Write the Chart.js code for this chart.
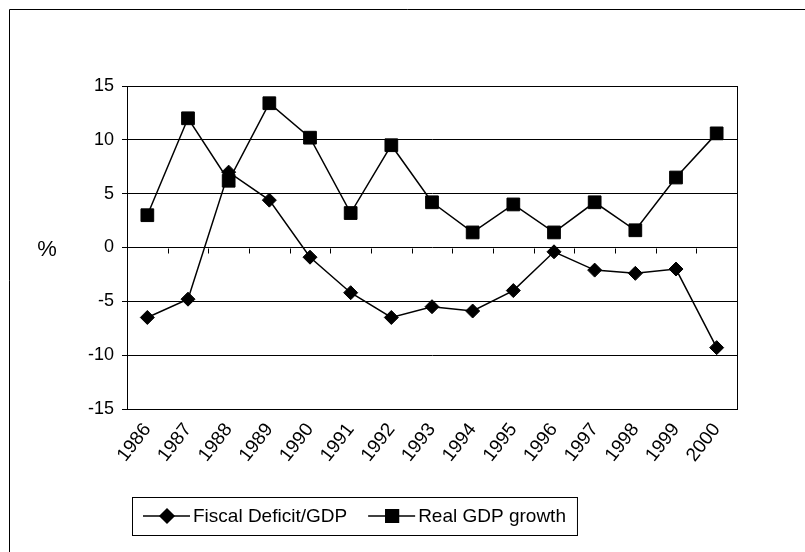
<!DOCTYPE html>
<html lang="en">
<head>
    <meta charset="UTF-8">
    <title>Fiscal Deficit/GDP and Real GDP growth</title>
    <script src="https://cdn.jsdelivr.net/npm/chart.js"></script>
    <style>
        html, body { margin: 0; padding: 0; background: #fff; }
        canvas { display: block; }
    </style>
</head>
<body>
    <canvas id="chartCanvas" width="805" height="552"></canvas>

    <script>
        // data
        const years = ['1986', '1987', '1988', '1989', '1990', '1991', '1992', '1993',
                       '1994', '1995', '1996', '1997', '1998', '1999', '2000'];
        const fiscalDeficit = [-6.5, -4.8, 7.0, 4.4, -0.9, -4.2, -6.5, -5.5,
                               -5.9, -4.0, -0.4, -2.1, -2.4, -2.0, -9.3];
        const realGdpGrowth = [3.0, 12.0, 6.2, 13.4, 10.2, 3.2, 9.5, 4.2,
                               1.4, 4.0, 1.4, 4.2, 1.6, 6.5, 10.6];
        const yMin = -15, yMax = 15, yStep = 5;
        const seriesNames = ['Fiscal Deficit/GDP', 'Real GDP growth'];

        const FONT = '"Liberation Sans", Arial, sans-serif';

        // frame, zero-line ticks, "%" label and boxed legend
        const extras = {
            id: 'extras',
            afterDraw(chart) {
                const ctx = chart.ctx;
                const a = chart.chartArea;
                const x = chart.scales.x;
                const y = chart.scales.y;
                ctx.save();
                ctx.strokeStyle = '#000';
                ctx.lineWidth = 1;

                // outer border (left + top only, the rest is cropped)
                ctx.beginPath();
                ctx.moveTo(9.5, 552);
                ctx.lineTo(9.5, 9.5);
                ctx.lineTo(805, 9.5);
                ctx.stroke();

                // plot frame
                ctx.strokeRect(Math.round(a.left) + 0.5, Math.round(a.top) + 0.5,
                               Math.round(a.right - a.left), Math.round(a.bottom - a.top));

                // category ticks on the zero line
                const y0 = Math.round(y.getPixelForValue(0)) + 0.5;
                ctx.beginPath();
                for (let i = 1; i < years.length; i++) {
                    const bx = Math.round((x.getPixelForValue(i - 1) + x.getPixelForValue(i)) / 2) + 0.5;
                    ctx.moveTo(bx, y0);
                    ctx.lineTo(bx, y0 + 5);
                }
                ctx.stroke();

                // axis title
                ctx.fillStyle = '#000';
                ctx.font = '22px ' + FONT;
                ctx.textAlign = 'center';
                ctx.textBaseline = 'middle';
                ctx.fillText('%', 47, y0 + 1);

                // legend
                ctx.font = '19px ' + FONT;
                ctx.textAlign = 'left';
                const boxL = 132, boxT = 497, boxH = 38;
                const midY = boxT + boxH / 2;
                let cx = boxL + 11;
                chart.data.datasets.forEach((ds, i) => {
                    ctx.lineWidth = 1.5;
                    ctx.beginPath();
                    ctx.moveTo(cx, midY);
                    ctx.lineTo(cx + 47, midY);
                    ctx.stroke();
                    Chart.helpers.drawPoint(ctx, {
                        pointStyle: ds.pointStyle,
                        radius: ds.pointRadius,
                        borderWidth: 1
                    }, cx + 24, midY);
                    ctx.fillText(ds.label, cx + 50, midY + 1);
                    cx += 50 + ctx.measureText(ds.label).width + 21;
                });
                ctx.lineWidth = 1;
                ctx.strokeRect(boxL + 0.5, boxT + 0.5, cx - 21 + 11 - boxL, boxH);

                ctx.restore();
            }
        };

        const ctx = document.getElementById('chartCanvas').getContext('2d');
        new Chart(ctx, {
            type: 'line',
            data: {
                labels: years,
                datasets: [{
                    label: seriesNames[0],
                    data: fiscalDeficit,
                    borderColor: '#000',
                    backgroundColor: '#000',
                    borderWidth: 1.5,
                    pointStyle: 'rectRot',
                    pointRadius: 7,
                    pointBorderWidth: 1,
                    tension: 0
                }, {
                    label: seriesNames[1],
                    data: realGdpGrowth,
                    borderColor: '#000',
                    backgroundColor: '#000',
                    borderWidth: 1.5,
                    pointStyle: 'rect',
                    pointRadius: 9,
                    pointBorderWidth: 1,
                    tension: 0
                }]
            },
            options: {
                responsive: false,
                animation: false,
                layout: { padding: { left: 0, top: 86, right: 68, bottom: 83 } },
                plugins: {
                    legend: { display: false },
                    tooltip: { enabled: false }
                },
                scales: {
                    x: {
                        offset: true,
                        grid: { display: false },
                        border: { display: true, color: '#000' },
                        ticks: {
                            color: '#000',
                            font: { family: FONT, size: 19 },
                            minRotation: 52,
                            maxRotation: 52,
                            autoSkip: false,
                            padding: 2
                        },
                        afterFit(scale) { scale.height = 60; }
                    },
                    y: {
                        min: yMin,
                        max: yMax,
                        grid: { color: '#000', lineWidth: 1, tickLength: 5 },
                        border: { display: true, color: '#000' },
                        ticks: {
                            stepSize: yStep,
                            color: '#000',
                            font: { family: FONT, size: 18 },
                            padding: 8
                        },
                        afterFit(scale) { scale.width = 127; }
                    }
                }
            },
            plugins: [extras]
        });
    </script>
</body>
</html>
